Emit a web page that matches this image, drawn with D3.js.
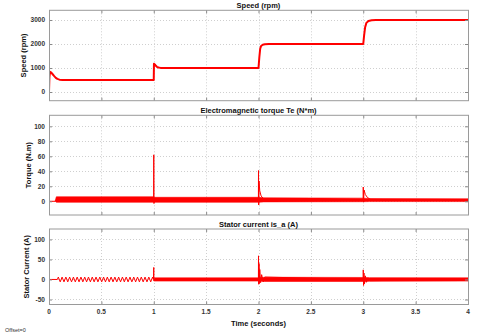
<!DOCTYPE html>
<html>
<head>
<meta charset="utf-8">
<script src="https://cdn.jsdelivr.net/npm/d3@7"></script>
<style>
body { margin: 0; background: #fff; }
text { font-family: "Liberation Sans", Arial, sans-serif; }
</style>
</head>
<body>
<div id="graph_draw"></div>
<script>
// tick labels
var timeTicks = [0, 0.5, 1, 1.5, 2, 2.5, 3, 3.5, 4];
var speedTicks = [0, 1000, 2000, 3000];
var torqueTicks = [0, 20, 40, 60, 80, 100];
var currentTicks = [-50, 0, 50, 100];

// speed (rpm) : [time, value]
var speedData = [[0,0],[0.004,620],[0.01,840],[0.02,820],[0.035,740],[0.05,660],[0.065,590],
  [0.08,545],[0.1,515],[0.13,503],[0.17,500],[1.0,500],[1.002,1180],[1.01,1150],[1.02,1090],
  [1.03,1050],[1.045,1020],[1.065,1005],[1.1,1000],[2.0,1000],[2.008,1450],[2.016,1800],
  [2.025,1920],[2.04,1970],[2.06,1992],[2.1,2000],[3.0,2000],[3.008,2350],[3.018,2700],
  [3.03,2880],[3.05,2960],[3.08,2992],[3.12,3000],[4,3000]];

// torque Te : main trace [time, value] and noise band [time, low, high]
var torqueLine = [[0,0],[0.0015,75],[0.003,0],[0.06,0],[0.07,2],[0.999,2],[1.0,62],[1.002,-3],
  [1.006,3],[1.999,2],[2.0,41],[2.002,-5],[2.005,27],[2.012,14],[2.025,7],[2.05,3.5],
  [2.999,2],[3.0,19],[3.003,-1],[3.008,15],[3.02,9],[3.04,5],[3.07,2.5],[4,1.5]];
var torqueBand = [[0.06,0,1],[0.07,-1.3,6],[0.999,-1.3,6],[1.004,-1.3,5.3],[1.999,-1.3,5.3],
  [2.05,-0.8,4.6],[2.999,-0.6,4.2],[3.06,-0.4,3.6],[4,-0.4,3.3]];

// stator current is_a : main trace [time, value] and noise band [time, low, high]
var currentLine = [[0,0],[0.0015,78],[0.003,0],[0.08,0],
  [0.089,6],[0.107,-6],[0.125,6],[0.143,-6],[0.161,6],[0.179,-6],[0.197,6],[0.215,-6],
  [0.233,6],[0.251,-6],[0.269,6],[0.287,-6],[0.305,6],[0.323,-6],[0.341,6],[0.359,-6],
  [0.377,6],[0.395,-6],[0.413,6],[0.431,-6],[0.449,6],[0.467,-6],[0.485,6],[0.503,-6],
  [0.521,6],[0.539,-6],[0.557,6],[0.575,-6],[0.593,6],[0.611,-6],[0.629,6],[0.647,-6],
  [0.665,6],[0.683,-6],[0.701,6],[0.719,-6],[0.737,6],[0.755,-6],[0.773,6],[0.791,-6],
  [0.809,6],[0.827,-6],[0.845,6],[0.863,-6],[0.881,6],[0.899,-6],[0.917,6],[0.935,-6],
  [0.953,6],[0.971,-6],[0.989,6],[0.997,0],
  [1.0,30],[1.002,-4],[1.005,0],[1.999,0],[2.0,59],[2.002,-12],[2.005,40],[2.008,-10],
  [2.012,25],[2.02,-8],[2.03,12],[2.045,-6],[2.06,6],[2.999,0],[3.0,24],[3.003,-15],
  [3.007,16],[3.012,-11],[3.02,9],[3.03,-7],[3.045,4],[3.06,-3],[4,0]];
var currentBand = [[1.005,-4,4],[1.999,-4,4],[2.06,-5,5.5],[2.999,-5,5],[3.06,-4.5,4.5],[4,-4,4]];

var width = 480, height = 336;
var left = 49, right = 468;

var svg = d3.select("#graph_draw").append("svg")
    .attr("width", width)
    .attr("height", height);

var x = d3.scaleLinear().domain([0, 4]).range([left, right]);

var panels = [
  {title: "Speed (rpm)", ylabel: "Speed (rpm)", labelX: 26, top: 10.3, bottom: 100.7,
   domain: [-362, 3404], ticks: speedTicks, line: speedData, lw: 2},
  {title: "Electromagnetic torque Te (N*m)", ylabel: "Torque (N.m)", labelX: 30.5, top: 115.3, bottom: 215,
   domain: [-18.3, 114.7], ticks: torqueTicks, line: torqueLine, band: torqueBand, lw: 1},
  {title: "Stator current is_a (A)", ylabel: "Stator Current (A)", labelX: 28.5, top: 229, bottom: 304.5,
   domain: [-62.5, 126], ticks: currentTicks, line: currentLine, band: currentBand, lw: 1}
];

panels.forEach(function(p, i) {
  var y = d3.scaleLinear().domain(p.domain).range([p.bottom, p.top]);
  var g = svg.append("g");

  g.append("rect")
    .attr("x", left).attr("y", p.top)
    .attr("width", right - left).attr("height", p.bottom - p.top)
    .attr("fill", "#fff");

  // grid
  g.selectAll(".gx").data(timeTicks.slice(1, -1)).enter().append("line")
    .attr("x1", function(d) { return Math.round(x(d)) + 0.5; })
    .attr("x2", function(d) { return Math.round(x(d)) + 0.5; })
    .attr("y1", p.top).attr("y2", p.bottom)
    .attr("stroke", "#cfcfcf").attr("stroke-dasharray", "1,2");
  g.selectAll(".gy").data(p.ticks).enter().append("line")
    .attr("x1", left).attr("x2", right)
    .attr("y1", function(d) { return Math.round(y(d)) + 0.5; })
    .attr("y2", function(d) { return Math.round(y(d)) + 0.5; })
    .attr("stroke", "#cfcfcf").attr("stroke-dasharray", "1,2");

  // clip for traces
  svg.append("clipPath").attr("id", "clip" + i).append("rect")
    .attr("x", left).attr("y", p.top)
    .attr("width", right - left).attr("height", p.bottom - p.top);
  var plot = g.append("g").attr("clip-path", "url(#clip" + i + ")");

  if (p.band) {
    var area = d3.area()
      .x(function(d) { return x(d[0]); })
      .y0(function(d) { return y(d[1]); })
      .y1(function(d) { return y(d[2]); });
    plot.append("path").datum(p.band)
      .attr("d", area).attr("fill", "#ff0000").attr("stroke", "#ff0000").attr("stroke-width", 0.6);
  }

  var valueline = d3.line()
    .x(function(d) { return x(d[0]); })
    .y(function(d) { return y(d[1]); });
  plot.append("path").datum(p.line)
    .attr("d", valueline)
    .attr("fill", "none")
    .attr("stroke", "#ff0000")
    .attr("stroke-width", p.lw)
    .attr("stroke-linejoin", "round");

  // axes (ticks inward on all sides)
  g.append("g").attr("transform", "translate(" + left + ",0)")
    .call(d3.axisRight(y).tickValues(p.ticks).tickSize(3).tickFormat(""));
  g.append("g").attr("transform", "translate(" + right + ",0)")
    .call(d3.axisLeft(y).tickValues(p.ticks).tickSize(3).tickFormat(""));
  g.append("g").attr("transform", "translate(0," + p.top + ")")
    .call(d3.axisBottom(x).tickValues(timeTicks).tickSize(3).tickFormat(""));
  g.append("g").attr("transform", "translate(0," + p.bottom + ")")
    .call(d3.axisTop(x).tickValues(timeTicks).tickSize(3).tickFormat(""));
  g.selectAll(".domain").remove();
  g.selectAll(".tick line").attr("stroke", "#888");

  g.append("rect")
    .attr("x", left + 0.5).attr("y", p.top)
    .attr("width", right - left).attr("height", p.bottom - p.top)
    .attr("fill", "none").attr("stroke", "#9a9a9a");

  // tick labels
  g.selectAll(".yl").data(p.ticks).enter().append("text")
    .attr("x", left - 4).attr("y", function(d) { return y(d); })
    .attr("dy", "0.35em")
    .attr("text-anchor", "end")
    .attr("font-size", 6.5).attr("font-weight", "bold").attr("fill", "#333")
    .text(function(d) { return d; });

  g.append("text")
    .attr("x", (left + right) / 2).attr("y", p.top - 2.5)
    .attr("text-anchor", "middle")
    .attr("font-size", 7.5).attr("font-weight", "bold").attr("fill", "#111")
    .text(p.title);

  g.append("text")
    .attr("transform", "translate(" + p.labelX + "," + ((p.top + p.bottom) / 2) + ") rotate(-90)")
    .attr("text-anchor", "middle")
    .attr("font-size", 7.5).attr("font-weight", "bold").attr("fill", "#111")
    .text(p.ylabel);

  if (i === panels.length - 1) {
    g.selectAll(".xl").data(timeTicks).enter().append("text")
      .attr("x", function(d) { return x(d); }).attr("y", p.bottom + 9.5)
      .attr("text-anchor", "middle")
      .attr("font-size", 6.5).attr("font-weight", "bold").attr("fill", "#333")
      .text(function(d) { return d; });
  }
});

svg.append("text")
  .attr("x", (left + right) / 2).attr("y", 326)
  .attr("text-anchor", "middle")
  .attr("font-size", 7.5).attr("font-weight", "bold").attr("fill", "#111")
  .text("Time (seconds)");

svg.append("text")
  .attr("x", 5).attr("y", 331.5)
  .attr("font-size", 5.5).attr("fill", "#333")
  .text("Offset=0");
</script>
</body>
</html>
